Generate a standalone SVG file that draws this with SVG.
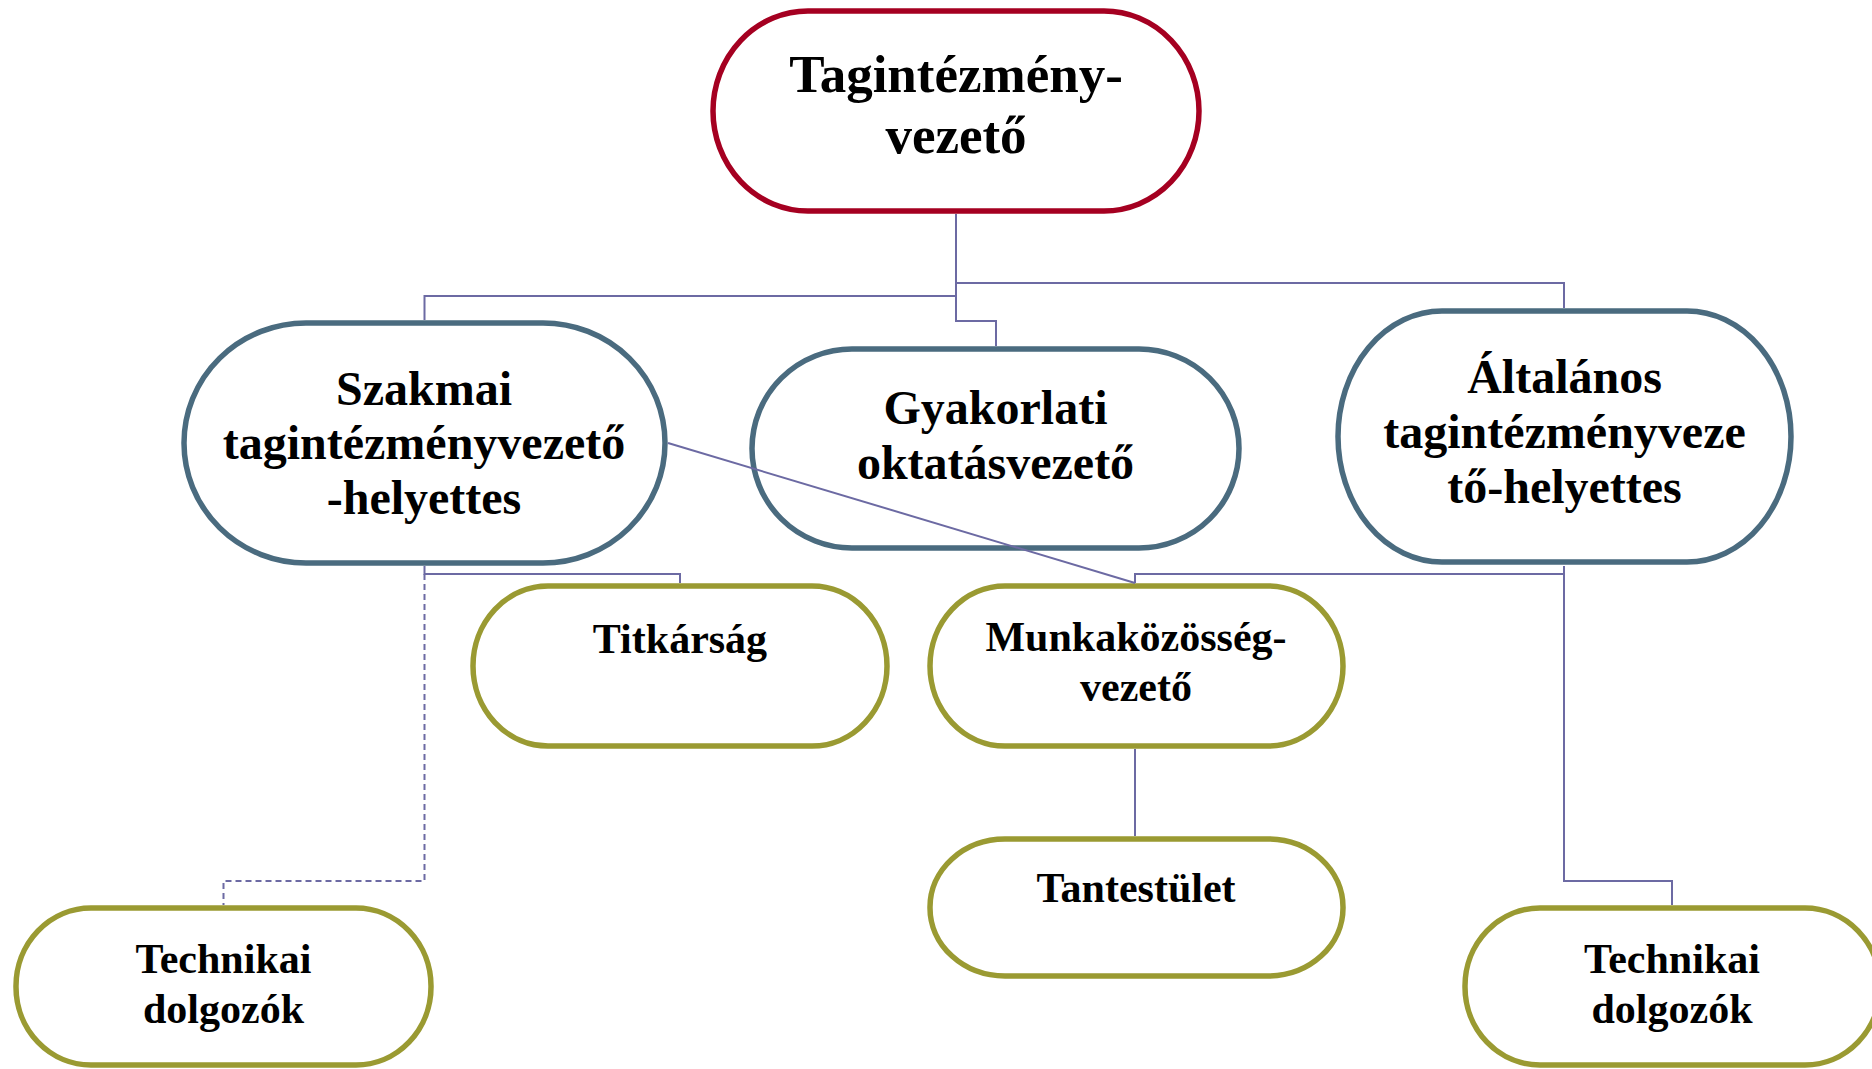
<svg xmlns="http://www.w3.org/2000/svg" width="1872" height="1069" viewBox="0 0 1872 1069">
<style>
.n rect{fill:#fff;stroke-width:5.5}
.l1 rect{stroke:#A50021}
.l2 rect{stroke:#4A6B7F}
.l3 rect{stroke:#9A9A32}
text{font-family:"Liberation Serif","Times New Roman",serif;font-weight:bold;fill:#000;text-anchor:middle}
.l1 text{font-size:53px}
.l2 text{font-size:48px}
.l3 text{font-size:42px}
#connectors path{fill:none;stroke:#6C6AA3;stroke-width:2}
#connectors path.d{stroke-dasharray:6 4}
</style>
<rect width="1872" height="1069" fill="#fff"/>
<g id="n-top" class="n l1">
<rect x="713" y="11" width="486" height="200" rx="95" ry="100"/>
<text x="956" y="92">Tagintézmény-</text>
<text x="956" y="153">vezető</text>
</g>
<g id="n-szakmai" class="n l2">
<rect x="184" y="323" width="481" height="240" rx="122" ry="120"/>
<text x="424" y="405">Szakmai</text>
<text x="424" y="459">tagintézményvezető</text>
<text x="424" y="514">-helyettes</text>
</g>
<g id="n-gyakorlati" class="n l2">
<rect x="752" y="349" width="487" height="199" rx="100" ry="99.5"/>
<text x="995.5" y="424">Gyakorlati</text>
<text x="995.5" y="479">oktatásvezető</text>
</g>
<g id="n-altalanos" class="n l2">
<rect x="1338" y="311" width="453" height="251" rx="104" ry="125.5"/>
<text x="1564.5" y="393">Általános</text>
<text x="1564.5" y="448">tagintézményveze</text>
<text x="1564.5" y="503">tő-helyettes</text>
</g>
<g id="n-titkarsag" class="n l3">
<rect x="473" y="586" width="414" height="160" rx="75" ry="80"/>
<text x="680" y="653">Titkárság</text>
</g>
<g id="n-munka" class="n l3">
<rect x="930" y="586" width="413" height="160" rx="75" ry="80"/>
<text x="1136" y="651">Munkaközösség-</text>
<text x="1136" y="701">vezető</text>
</g>
<g id="n-tantestulet" class="n l3">
<rect x="930" y="839" width="413" height="137" rx="75" ry="68"/>
<text x="1136" y="902">Tantestület</text>
</g>
<g id="n-tech-left" class="n l3">
<rect x="16" y="908" width="415" height="157" rx="75" ry="78"/>
<text x="223.5" y="973">Technikai</text>
<text x="223.5" y="1023">dolgozók</text>
</g>
<g id="n-tech-right" class="n l3">
<rect x="1465" y="908" width="415" height="157" rx="75" ry="78"/>
<text x="1672" y="973">Technikai</text>
<text x="1672" y="1023">dolgozók</text>
</g>
<g id="connectors">
<path d="M956 214 V321 H996 V346"/>
<path d="M956 296 H424.5 V320"/>
<path d="M956 283 H1564 V308"/>
<path d="M424.5 566 V574 H680 V583"/>
<path class="d" d="M424.5 574 V881 H223.5 V905"/>
<path d="M668 443 L1135 583"/>
<path d="M1564 566 V881 H1672 V905"/>
<path d="M1564 574 H1135 V583"/>
<path d="M1135 749 V836"/>
</g>
</svg>
